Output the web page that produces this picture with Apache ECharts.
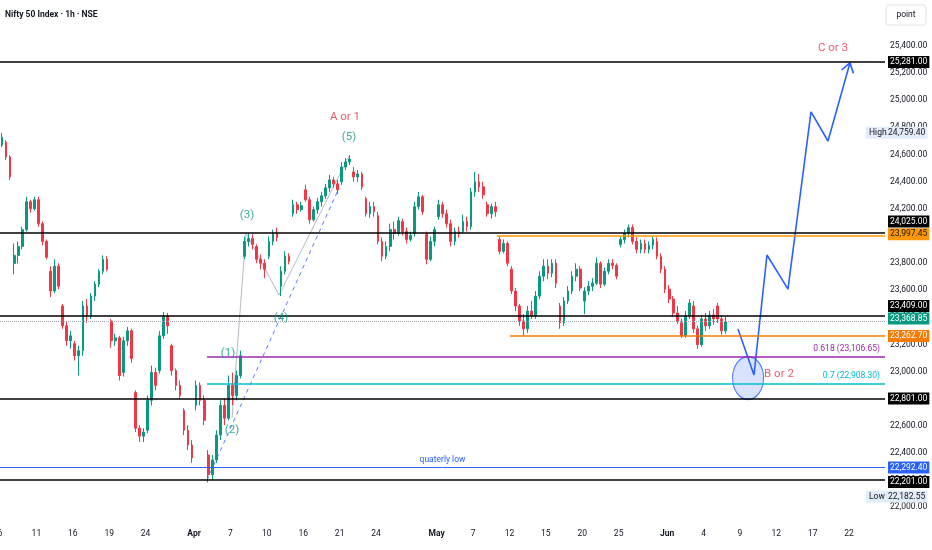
<!DOCTYPE html>
<html><head><meta charset="utf-8">
<script src="https://cdn.jsdelivr.net/npm/echarts@6/dist/echarts.min.js"></script>
<style>html,body{margin:0;padding:0;background:#fff}#c{width:932px;height:550px}</style>
</head><body><div id="c"></div>
<script>
const chartTitle = 'Nifty 50 Index · 1h · NSE';
const barsPerDay = 3;
// candles: [open, close, low, high], 3 per trading day, oldest first
const candles = [
[24668,24727,24654,24759.4],[24690,24580,24558,24705],[24580,24434,24412,24595],
[23797,23856,23717,23944],[23856,23922,23797,23959],[23922,24046,23900,24068],
[24046,24251,24032,24288],[24251,24200,24170,24266],[24200,24266,24185,24288],
[24266,24090,24068,24288],[24090,23959,23930,24105],[23959,23842,23827,23973],
[23739,23593,23549,23776],[23593,23776,23578,23827],[23776,23629,23607,23798],
[23483,23337,23315,23498],[23337,23227,23190,23373],[23227,23263,23168,23300],
[23205,23117,23081,23227],[23117,23154,22971,23190],[23154,23483,23117,23520],
[23483,23410,23359,23534],[23410,23556,23388,23578],[23556,23644,23520,23666],
[23644,23739,23622,23754],[23739,23827,23717,23856],[23827,23754,23739,23849],
[23373,23227,23176,23388],[23227,23249,23190,23278],[23249,22971,22934,23263],
[22993,23227,22963,23256],[23227,23300,23190,23329],[23300,23095,23066,23315],
[22846,22583,22554,22861],[22583,22524,22481,22605],[22524,22554,22481,22583],
[22568,22788,22546,22824],[22788,22993,22751,23044],[22993,22898,22861,23029],
[23007,23263,22985,23300],[23263,23410,23241,23439],[23410,23337,23278,23432],
[23190,23007,22971,23205],[23007,22898,22861,23022],[22898,22824,22802,22934],
[22715,22568,22532,22729],[22568,22459,22422,22605],[22459,22363,22327,22495],
[22751,22898,22715,22934],[22898,22788,22751,22919],[22788,22641,22605,22824],
[22385,22239,22182.55,22422],[22239,22349,22202,22385],[22349,22532,22327,22568],
[22532,22751,22495,22788],[22751,22656,22605,22802],[22656,22898,22641,22971],
[22898,22824,22751,22993],[22824,22971,22788,23007],[22971,23117,22949,23154],
[23849,23959,23827,23995],[23959,23981,23922,24017],[23981,23937,23900,24010],
[23922,23827,23798,23937],[23827,23798,23754,23863],[23798,23754,23688,23827],
[23849,23959,23827,23995],[23959,24017,23930,24046],[24017,23988,23959,24061],
[23629,23739,23556,23776],[23739,23849,23717,23886],[23849,23812,23790,23871],
[24163,24229,24141,24266],[24229,24193,24163,24251],[24193,24222,24178,24251],
[24339,24266,24251,24376],[24266,24119,24090,24288],[24119,24193,24105,24215],
[24193,24251,24163,24280],[24251,24295,24215,24324],[24295,24354,24273,24383],
[24354,24412,24324,24449],[24412,24383,24354,24434],[24383,24339,24310,24412],
[24398,24507,24376,24544],[24507,24544,24485,24573],[24544,24566,24522,24595],
[24471,24434,24398,24507],[24434,24456,24398,24485],[24456,24361,24339,24471],
[24273,24163,24141,24288],[24163,24215,24134,24251],[24215,24178,24141,24251],
[24149,23959,23937,24178],[23959,23849,23812,23988],[23849,23922,23827,23959],
[23922,24046,23886,24090],[24046,24017,23973,24105],[24017,24112,24003,24141],
[24105,24032,24003,24127],[24032,23973,23944,24061],[23973,24003,23959,24032],
[24017,24215,23995,24251],[24215,24288,24193,24324],[24288,24178,24156,24302],
[24010,23827,23790,24032],[23827,23959,23812,23995],[23959,24046,23922,24068],
[24141,24229,24119,24266],[24229,24163,24134,24251],[24163,24090,24061,24193],
[24090,23959,23922,24119],[23959,24032,23930,24061],[24032,24017,23988,24068],
[24032,24105,24017,24156],[24105,24068,24032,24141],[24068,24324,24046,24354],
[24324,24398,24288,24471],[24398,24361,24324,24456],[24361,24302,24273,24398],
[24229,24163,24141,24251],[24163,24215,24127,24237],[24215,24178,24141,24251],
[23973,23886,23864,23995],[23886,23944,23871,23973],[23944,23798,23776,23959],
[23754,23593,23571,23776],[23593,23483,23446,23615],[23483,23373,23337,23498],
[23373,23315,23262.7,23424],[23315,23446,23285,23483],[23446,23410,23388,23520],
[23410,23556,23388,23593],[23556,23702,23534,23739],[23702,23776,23666,23827],
[23776,23725,23680,23827],[23725,23798,23695,23827],[23798,23651,23615,23827],
[23483,23359,23315,23505],[23359,23520,23337,23549],[23520,23593,23498,23629],
[23593,23702,23571,23739],[23702,23754,23666,23798],[23754,23615,23593,23776],
[23520,23593,23424,23622],[23593,23629,23564,23666],[23629,23651,23593,23688],
[23651,23798,23637,23842],[23798,23644,23615,23812],[23644,23739,23629,23768],
[23739,23798,23717,23827],[23798,23783,23754,23827],[23783,23702,23680,23798],
[23937,23973,23915,23995],[23973,24017,23944,24046],[24017,24061,23988,24083],
[24061,23959,23937,24083],[23959,23900,23871,23988],[23900,23944,23871,23973],
[23944,23900,23871,23973],[23900,23930,23871,23959],[23930,23973,23900,23995],
[23959,23849,23827,23988],[23849,23754,23725,23871],[23754,23607,23578,23776],
[23607,23534,23505,23637],[23534,23432,23402,23556],[23432,23373,23351,23483],
[23359,23263,23248,23388],[23263,23410,23250,23446],[23410,23505,23388,23534],
[23483,23315,23285,23520],[23315,23198,23168,23337],[23198,23388,23183,23417],
[23388,23337,23300,23432],[23337,23417,23315,23446],[23417,23388,23344,23461],
[23483,23388,23359,23505],[23388,23300,23271,23417],[23300,23368.85,23278,23402]
];
// x-axis: trading-day index -> label
const dayTickIndex = [0,3,6,9,12,16,19,22,25,28,31,36,39,42,45,48,51,55,58,61,64,67,70];
const dayTickLabels = ['6','11','16','19','24','Apr','7','10','16','21','24','May','7','12','15','20','25','Jun','4','9','12','17','22'];
const monthLabels = ['Apr','May','Jun'];
// horizontal levels
const keyLevels = [25281.00, 24025.00, 23409.00, 22801.00, 22201.00];
const quarterlyLow = 22292.40;
const rangeTop = 23997.45, rangeTopStartDay = 40.97;
const rangeBottom = 23262.70, rangeBottomStartDay = 42.05;
const fib618 = 23106.65, fib70 = 22908.30, fibStartDay = 17.07;
const lastPrice = 23368.85;
const highPrice = 24759.40, lowPrice = 22182.55;
// wave annotations [text, day, price]
const waveLabelsGreen = [['(1)',18.8,23137],['(2)',19.13,22569],['(3)',20.36,24154],['(4)',23.17,23395],['(5)',28.77,24728]];
const waveLabelsRed = [['A or 1',28.44,24876],['B or 2',64.22,22982],['C or 3',68.67,25384]];
const wavePath = [[19.13,22658],[20.28,24021],[23.0,23564],[28.77,24588]];
const trendDashed = [[17.07,22201],[27.95,24353]];
const projection = [[60.84,23313],[62.16,22975],[63.23,23859],[64.96,23608],[66.86,24913],[68.26,24699],[70.07,25274]];
const targetZone = [61.67, 22952];

const F = "Roboto, 'Liberation Sans', sans-serif";
const FS = 8.5;
const TXT = '#131722';
const xMin = 0, xMax = 72.96;
const CLEAR = 'rgba(0,0,0,0)';
function fmt(v){ return v.toLocaleString('en-US',{minimumFractionDigits:2,maximumFractionDigits:2}); }

const candleData = candles.map((c,i)=>[Math.floor(i/barsPerDay) + ((i%barsPerDay)+0.5)/barsPerDay, c[0], c[1], c[2], c[3]]);

function box(v, bg, fg, dy){
  return {show:true, position:'end', distance:3, formatter: fmt(v), backgroundColor:bg, color:fg,
    padding:[2,2,1,2], fontSize:FS, fontFamily:F, offset:[0, dy||0]};
}
const boxOffsets = {25281:0, 24025:-11, 23409:-10, 22801:0, 22201:2};
const mlData = [];
keyLevels.forEach(v=>{
  mlData.push({yAxis:v, lineStyle:{color:'#000', width:1.6, type:'solid'}, label:box(v,'#000','#fff',boxOffsets[v])});
});
mlData.push({yAxis:quarterlyLow, lineStyle:{color:'#2962ff', width:1, type:'solid'}, label:box(quarterlyLow,'#2962ff','#fff',0)});
mlData.push({yAxis:quarterlyLow, lineStyle:{color:CLEAR, width:1}, label:{show:true, position:'insideMiddleTop', distance:3, formatter:'quaterly low', color:'#2962ff', fontSize:FS, fontFamily:F}});
mlData.push({yAxis:lastPrice, lineStyle:{color:'#a3a6af', width:1, type:'dotted'}, label:box(lastPrice,'#089981','#fff',-3)});
mlData.push([{coord:[rangeTopStartDay, rangeTop], lineStyle:{color:'#ff9800', width:1.6, type:'solid'}, label:box(rangeTop,'#ff9800',TXT,-2)}, {coord:[xMax, rangeTop]}]);
mlData.push([{coord:[rangeBottomStartDay, rangeBottom], lineStyle:{color:'#f57c00', width:1.6, type:'solid'}, label:box(rangeBottom,'#f57c00','#fff',0)}, {coord:[xMax, rangeBottom]}]);
mlData.push([{coord:[fibStartDay, fib618], lineStyle:{color:'#9c27b0', width:1.6, type:'solid'},
  label:{show:true, position:'insideEndTop', distance:[5,4], formatter:'0.618 (' + fmt(fib618) + ')', color:'#9c27b0', fontSize:FS, fontFamily:F}}, {coord:[xMax, fib618]}]);
mlData.push([{coord:[fibStartDay, fib70], lineStyle:{color:'#00bcd4', width:1.6, type:'solid'},
  label:{show:true, position:'insideEndTop', distance:[5,4], formatter:'0.7 (' + fmt(fib70) + ')', color:'#00bcd4', fontSize:FS, fontFamily:F}}, {coord:[xMax, fib70]}]);
function hlBox(name, v, dy){
  return {yAxis:v, lineStyle:{color:CLEAR, width:1}, label:{show:true, position:'end', distance:3, offset:[-22, dy],
    formatter:'{h|' + name + '}' + fmt(v), backgroundColor:'#e3ecf9', color:TXT, padding:[2,2,1,3], fontSize:FS, fontFamily:F,
    rich:{h:{width:19, fontSize:FS, fontFamily:F, color:TXT}}}};
}
mlData.push(hlBox('High', highPrice, 0));
mlData.push(hlBox('Low', lowPrice, 14));

const chart = echarts.init(document.getElementById('c'), null, {renderer:'canvas'});
chart.setOption({
  animation:false,
  backgroundColor:'#fff',
  grid:{left:0, right:47, top:-8.43, bottom:15.59, outerBoundsMode:'none', containLabel:false},
  xAxis:{type:'value', min:xMin, max:xMax, interval:1,
    axisLine:{show:false}, axisTick:{show:false}, splitLine:{show:false},
    axisLabel:{margin:-5, fontSize:FS, color:TXT, fontFamily:F, showMaxLabel:false,
      formatter:function(v){ const r=Math.round(v); if(Math.abs(r-v)>1e-6) return ''; const k=dayTickIndex.indexOf(r); if(k<0) return '';
        const t=dayTickLabels[k]; return monthLabels.indexOf(t)>=0 ? '{b|'+t+'}' : t; },
      rich:{b:{fontWeight:'bold', fontSize:FS, color:TXT, fontFamily:F}}}},
  yAxis:{type:'value', position:'right', min:21800, max:25800, interval:200, scale:true,
    axisLine:{show:false}, axisTick:{show:false}, splitLine:{show:false},
    axisLabel:{margin:5, fontSize:FS, color:TXT, fontFamily:F,
      formatter:function(v){ return (v>=22000 && v<=25400) ? fmt(v) : ''; }}},
  graphic:[
    {type:'text', left:5, top:10, style:{text:chartTitle, fill:TXT, font:"bold 8.5px "+F}},
    {type:'rect', shape:{x:886, y:5, width:40, height:20, r:3}, style:{fill:'#fff', stroke:'#e0e3eb', lineWidth:1}},
    {type:'text', x:906, y:15, style:{text:'point', fill:TXT, font:FS+"px "+F, align:'center', verticalAlign:'middle'}}
  ],
  series:[
    {type:'line', data:wavePath, symbol:'none', z:1, lineStyle:{color:'#b8bbc4', width:1}, silent:true},
    {type:'line', data:trendDashed, symbol:'none', z:1, lineStyle:{color:'#5b7cfa', width:1, type:[4,4]}, silent:true},
    {type:'candlestick', data:candleData, encode:{x:0, y:[1,2,3,4]}, barWidth:2.2, z:2,
      itemStyle:{color:'#089981', color0:'#f23645', borderColor:'#089981', borderColor0:'#f23645', borderWidth:1},
      markLine:{silent:true, symbol:'none', animation:false, data:mlData}},
    {type:'scatter', data:[{value:targetZone}], symbol:'circle', symbolSize:[31,43], z:3,
      itemStyle:{color:'rgba(41,98,255,0.22)', borderColor:'#2962ff', borderWidth:1.2}, silent:true},
    {type:'line', data:projection, symbol:'none', z:4, lineStyle:{color:'#2962ff', width:1.6}, silent:true},
    {type:'custom', z:4, silent:true,
      data:[[projection[projection.length-2][0], projection[projection.length-2][1], projection[projection.length-1][0], projection[projection.length-1][1]]],
      encode:{x:[0,2], y:[1,3]},
      renderItem:function(params, api){
        const a=api.coord([api.value(0),api.value(1)]), b=api.coord([api.value(2),api.value(3)]);
        const ang=Math.atan2(b[1]-a[1], b[0]-a[0]), L=11, w=0.6;
        const p1=[b[0]-L*Math.cos(ang-w), b[1]-L*Math.sin(ang-w)];
        const p2=[b[0]-L*Math.cos(ang+w), b[1]-L*Math.sin(ang+w)];
        return {type:'polyline', shape:{points:[p1,b,p2]}, style:{stroke:'#2962ff', lineWidth:1.6, fill:null}};
      }},
    {type:'scatter', data:waveLabelsGreen.map(w=>({name:w[0], value:[w[1],w[2]]})), symbolSize:1, z:5, silent:true,
      itemStyle:{color:CLEAR},
      label:{show:true, position:'inside', formatter:'{b}', color:'#089981', fontSize:11.5, fontFamily:F}},
    {type:'scatter', data:waveLabelsRed.map(w=>({name:w[0], value:[w[1],w[2]]})), symbolSize:1, z:5, silent:true,
      itemStyle:{color:CLEAR},
      label:{show:true, position:'inside', formatter:'{b}', color:'#e8334a', fontSize:11.5, fontFamily:F}}
  ]
});
</script></body></html>
